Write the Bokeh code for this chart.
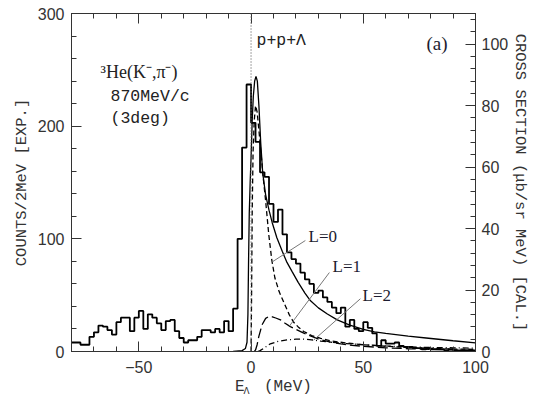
import numpy as np
from bokeh.plotting import figure
from bokeh.models import Range1d, LinearAxis, FixedTicker, Label, Span
from bokeh.embed import file_html
from bokeh.resources import INLINE

# ---------------- data ----------------
# experimental histogram, 2 MeV bins (left edges), counts
bin_left = list(range(-80, 100, 2))
counts = [8, 8, 6, 6, 13, 17, 23, 22, 19, 15,
          26, 30, 30, 18, 30, 36, 20, 33, 30, 25,
          19, 27, 28, 18, 12, 8, 10, 10, 13, 19,
          19, 17, 20, 17, 27, 18, 38, 100, 181, 237,
          203, 186, 159, 155, 131, 115, 126, 104, 88, 82,
          78, 70, 64, 60, 52, 54, 48, 44, 39, 34,
          39, 22, 28, 20, 18, 26, 21, 16, 5, 10,
          7, 7, 8, 5, 4, 4, 3, 3, 2, 3,
          2, 2, 2, 1, 2, 1, 1, 1, 1, 1]

# calculated cross sections (right axis)
E_tot = [-8, -4, -2.5, -1.8, -1.4, -1.1, -0.8, -0.4, 0, 0.5, 1.0, 1.6, 2.2, 2.8, 3.5, 4.3,
         5.2, 6.5, 8, 9.4, 11.5, 13.9, 16, 18.3, 21, 24, 26.5, 30, 34, 38.4, 44, 50, 55,
         60, 70, 78, 90, 100]
xs_tot = [0, 0.3, 1, 3, 12, 30, 45, 55, 63, 75, 83, 88, 89.5, 88, 80, 68,
          58, 51, 46, 42, 37, 32.6, 29, 26, 22.5, 19, 16.5, 14.2, 12.2, 10.3, 8.6, 7.2, 6.4,
          5.9, 5.0, 4.4, 3.5, 2.8]

E_L0 = [0, 0.2, 0.5, 0.9, 1.4, 2, 2.7, 3.5, 4.5, 5.5, 6.5, 7.9, 9.2, 10.6, 12.5, 14.6,
        17, 19, 21, 23.5, 27, 31, 36, 42, 50, 60, 70, 80, 90, 100]
xs_L0 = [0, 15, 45, 65, 75, 80, 78, 72, 64, 56, 49, 38, 30, 24, 19.5, 16,
         12, 9.5, 8, 6.5, 5.2, 4.3, 3.4, 2.8, 2.2, 1.7, 1.3, 1.0, 0.8, 0.7]

E_L1 = [1.5, 2, 2.7, 3.5, 4.9, 6.5, 8, 9.5, 11, 13.1, 15, 17.5, 20, 23.5, 27, 31, 35,
        40, 45, 50, 60, 70, 80, 90, 100]
xs_L1 = [0, 0.5, 2.2, 5, 8.7, 10.8, 11.4, 11.3, 10.9, 10.3, 9.3, 8.1, 7.2, 6, 4.9, 3.8, 3.1,
         2.5, 2.0, 1.7, 1.2, 0.9, 0.7, 0.5, 0.4]

E_L2 = [3, 4, 6, 8.6, 12, 16, 20, 23.5, 27, 31, 36, 42, 50, 60, 70, 80, 90, 100]
xs_L2 = [0, 0.3, 1.2, 2.5, 3.3, 3.8, 4.0, 4.0, 3.8, 3.4, 3.0, 2.6, 2.2, 1.8, 1.5, 1.3, 1.2, 1.1]

x_major = [-50, 0, 50, 100]
x_minor = list(range(-80, 101, 10))
y_major = [0, 100, 200, 300]
y_minor = list(range(0, 301, 20))
r_major = [0, 20, 40, 60, 80, 100]
r_minor = list(range(0, 110, 4))

# ---------------- figure ----------------
W, H = 535, 399
L, R, T, B = 71, 60, 13, 48
p = figure(width=W, height=H, x_range=Range1d(-80, 100), y_range=Range1d(0, 300),
           output_backend="svg", toolbar_location=None,
           min_border_left=L, min_border_right=R, min_border_top=T, min_border_bottom=B)
p.extra_y_ranges = {"xs": Range1d(0, 110)}
p.xgrid.visible = False
p.ygrid.visible = False
p.outline_line_color = "#333"
p.outline_line_width = 1
p.background_fill_color = "white"
p.border_fill_color = "white"

fw, fh = W - L - R, H - T - B
def dx(px):
    return (px - L) / fw * 180 - 80
def dy(py):
    return (H - B - py) / fh * 300

tick_font = "Liberation Sans"
tick_col = "#333"

def style_axis(ax, ticks, minor):
    ax.ticker = FixedTicker(ticks=ticks, minor_ticks=minor)
    ax.major_tick_in = 10
    ax.major_tick_out = 0
    ax.minor_tick_in = 5
    ax.minor_tick_out = 0
    ax.axis_line_color = "#333"
    ax.major_tick_line_color = "#333"
    ax.minor_tick_line_color = "#333"
    ax.major_label_text_font = tick_font
    ax.major_label_text_font_size = "16px"
    ax.major_label_text_color = tick_col

def style_title(ax, text, standoff, size="15.5px"):
    ax.axis_label = text
    ax.axis_label_text_font = "Liberation Mono"
    ax.axis_label_text_font_style = "normal"
    ax.axis_label_text_font_size = size
    ax.axis_label_text_color = "#333"
    ax.axis_label_standoff = standoff

xb = p.xaxis[0]
style_axis(xb, x_major, x_minor)
xb.major_label_overrides = {-50: "\u221250"}
xb.major_label_standoff = 9

yl = p.yaxis[0]
style_axis(yl, y_major, y_minor)
yl.major_label_standoff = 7
style_title(yl, "COUNTS/2MeV [EXP.]", 4)

# top axis: ticks only (two axes: short ticks and long ticks, no labels)
xt1 = LinearAxis(ticker=FixedTicker(ticks=[], minor_ticks=x_minor),
                 minor_tick_in=5, minor_tick_out=0, axis_line_color="#333",
                 minor_tick_line_color="#333")
xt2 = LinearAxis(ticker=FixedTicker(ticks=[], minor_ticks=x_major),
                 minor_tick_in=10, minor_tick_out=0, axis_line_color=None,
                 minor_tick_line_color="#333")
p.add_layout(xt1, "above")
p.add_layout(xt2, "above")

# bottom title E_Lambda (MeV): two label-only axes (subscript first, then main text)
NB = "\u00a0"
xl1 = LinearAxis(ticker=FixedTicker(ticks=[], minor_ticks=[]), axis_line_color=None)
style_title(xl1, "\u039b" + NB * 9, 10, "10px")
xl2 = LinearAxis(ticker=FixedTicker(ticks=[], minor_ticks=[]), axis_line_color=None)
style_title(xl2, "E" + NB * 2 + "(MeV)", -22, "16px")
p.add_layout(xl1, "below")
p.add_layout(xl2, "below")

yr = LinearAxis(y_range_name="xs")
style_axis(yr, r_major, r_minor)
yr.major_label_standoff = 6
style_title(yr, "CROSS SECTION (\u03bcb/sr MeV) [CAL.]", 0)
p.add_layout(yr, "right")

# ---------------- marks ----------------
p.add_layout(Span(location=0, dimension="height", line_color="#666",
                  line_dash="1 2", line_width=1.2))

p.step(x=bin_left + [100], y=counts + [counts[-1]], mode="after",
       line_color="black", line_width=1.8)

p.line(E_tot, xs_tot, y_range_name="xs", line_color="black", line_width=1.3)
p.line(E_L0, xs_L0, y_range_name="xs", line_color="black", line_width=1.3, line_dash="5 3")
p.line(E_L1, xs_L1, y_range_name="xs", line_color="black", line_width=1.3, line_dash="10 4")
p.line(E_L2, xs_L2, y_range_name="xs", line_color="black", line_width=1.3, line_dash="6 3 1 3")

# pointer lines: from label to curve
def r2l(v):
    return v / 110 * 300
ptr = [(24.2, 98.5, 9.4, E_L0, xs_L0),
       (34.9, 70.1, 17.1, E_L1, xs_L1),
       (48.7, 46.8, 27.9, E_L2, xs_L2)]
for x0, y0, x1, ex, ey in ptr:
    y1 = r2l(np.interp(x1, ex, ey))
    p.segment(x0=[x0], y0=[y0], x1=[x1], y1=[y1], line_color="#777", line_width=1)

lab_col = "#1c1c30"
for name, px, py in [("L=0", 308, 236), ("L=1", 332, 266), ("L=2", 362, 295)]:
    p.add_layout(Label(x=dx(px), y=dy(py), text=name, text_font="Liberation Serif",
                       text_font_size="17px", text_baseline="middle", text_color=lab_col))

p.add_layout(Label(x=dx(426), y=dy(43), text="(a)", text_font="Liberation Serif",
                   text_font_size="19px", text_baseline="middle", text_color=lab_col))
p.add_layout(Label(x=dx(100), y=dy(71), text="\u00b3He(K\u207b,\u03c0\u207b)",
                   text_font="Liberation Serif", text_font_size="18px",
                   text_baseline="middle", text_color="#222"))
p.add_layout(Label(x=dx(110), y=dy(96), text="870MeV/c", text_font="Liberation Mono",
                   text_font_size="16.5px", text_baseline="middle", text_color="#222"))
p.add_layout(Label(x=dx(110), y=dy(118), text="(3deg)", text_font="Liberation Mono",
                   text_font_size="16.5px", text_baseline="middle", text_color="#222"))
p.add_layout(Label(x=dx(256), y=dy(40), text="p+p+\u039b", text_font="Liberation Mono",
                   text_font_size="16.5px", text_baseline="middle", text_color="#222"))

open("out.html", "w").write(file_html(p, INLINE))
